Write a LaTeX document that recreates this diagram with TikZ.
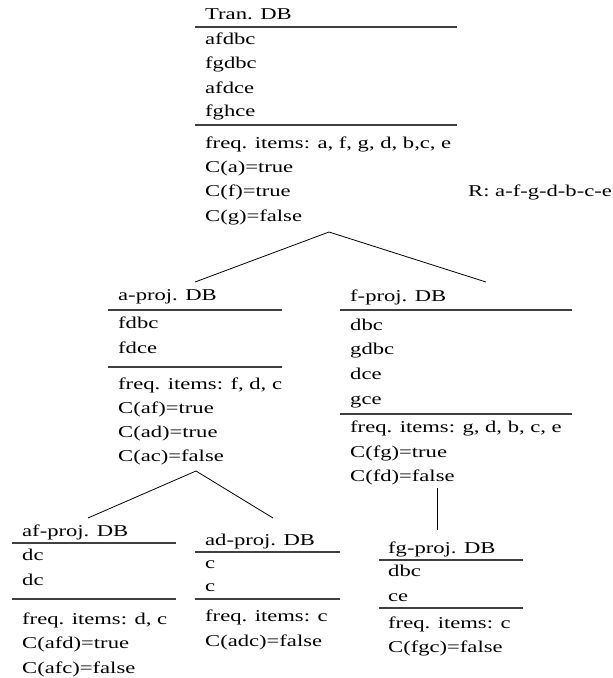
\documentclass[tikz,border=0pt]{standalone}
\usepackage{fontspec}
\setmainfont[FakeStretch=1.37]{Liberation Serif}
\begin{document}
\begin{tikzpicture}[x=1pt,y=-1pt,
  txt/.style={anchor=base west,inner sep=0pt,font=\fontsize{16.5}{24.5}\selectfont},
  rulel/.style={draw=black!75,line width=1.2pt},
  conn/.style={draw=black,line width=0.8pt}]
\useasboundingbox (0,0) rectangle (613,678);

% transaction database
\node[txt] (tran-h) at (205,19) {Tran. DB};
\draw[rulel] (195,27) -- (457,27);
\node[txt] (tran-r1) at (205,44) {afdbc};
\node[txt] (tran-r2) at (205,68.5) {fgdbc};
\node[txt] (tran-r3) at (205,93) {afdce};
\node[txt] (tran-r4) at (205,116.5) {fghce};
\draw[rulel] (195,125) -- (457,125);
\node[txt] (tran-f) at (205,148) {freq. items: a, f, g, d, b,c, e};
\node[txt] (tran-c1) at (205,172) {C(a)=true};
\node[txt] (tran-c2) at (205,196.5) {C(f)=true};
\node[txt] (tran-c3) at (205,221) {C(g)=false};
\node[txt] (order) at (468,196.5) {R: a-f-g-d-b-c-e};

% a-projected database
\node[txt] (a-h) at (118,300) {a-proj. DB};
\draw[rulel] (108,310) -- (282,310);
\node[txt] (a-r1) at (118,328) {fdbc};
\node[txt] (a-r2) at (118,353) {fdce};
\draw[rulel] (108,367) -- (282,367);
\node[txt] (a-f) at (118,389) {freq. items: f, d, c};
\node[txt] (a-c1) at (118,413) {C(af)=true};
\node[txt] (a-c2) at (118,437) {C(ad)=true};
\node[txt] (a-c3) at (118,461) {C(ac)=false};

% f-projected database
\node[txt] (f-h) at (350,301) {f-proj. DB};
\draw[rulel] (340,310) -- (572,310);
\node[txt] (f-r1) at (350,330) {dbc};
\node[txt] (f-r2) at (350,354) {gdbc};
\node[txt] (f-r3) at (350,379) {dce};
\node[txt] (f-r4) at (350,404) {gce};
\draw[rulel] (340,414) -- (572,414);
\node[txt] (f-f) at (350,432) {freq. items: g, d, b, c, e};
\node[txt] (f-c1) at (350,457) {C(fg)=true};
\node[txt] (f-c2) at (350,481) {C(fd)=false};

% af-projected database
\node[txt] (af-h) at (22,536) {af-proj. DB};
\draw[rulel] (12,543) -- (176,543);
\node[txt] (af-r1) at (22,560) {dc};
\node[txt] (af-r2) at (22,585) {dc};
\draw[rulel] (12,599) -- (176,599);
\node[txt] (af-f) at (22,624) {freq. items: d, c};
\node[txt] (af-c1) at (22,648) {C(afd)=true};
\node[txt] (af-c2) at (22,673) {C(afc)=false};

% ad-projected database
\node[txt] (ad-h) at (205,545) {ad-proj. DB};
\draw[rulel] (195,552) -- (340,552);
\node[txt] (ad-r1) at (205,568) {c};
\node[txt] (ad-r2) at (205,591) {c};
\draw[rulel] (195,599) -- (340,599);
\node[txt] (ad-f) at (205,621) {freq. items: c};
\node[txt] (ad-c1) at (205,646) {C(adc)=false};

% fg-projected database
\node[txt] (fg-h) at (388,553) {fg-proj. DB};
\draw[rulel] (379,560) -- (523,560);
\node[txt] (fg-r1) at (388,576) {dbc};
\node[txt] (fg-r2) at (388,601) {ce};
\draw[rulel] (379,608) -- (523,608);
\node[txt] (fg-f) at (388,628) {freq. items: c};
\node[txt] (fg-c1) at (388,652) {C(fgc)=false};

% tree edges
\coordinate (tran-out) at (329,232);
\coordinate (a-in) at (195,282);
\coordinate (f-in) at (486,282);
\coordinate (a-out) at (196,471);
\coordinate (af-in) at (88,518);
\coordinate (ad-in) at (273,518);
\coordinate (f-out) at (437,488);
\coordinate (fg-in) at (437,530);
\draw[conn] (a-in) -- (tran-out) -- (f-in);
\draw[conn] (af-in) -- (a-out) -- (ad-in);
\draw[conn] (f-out) -- (fg-in);
\end{tikzpicture}
\end{document}
